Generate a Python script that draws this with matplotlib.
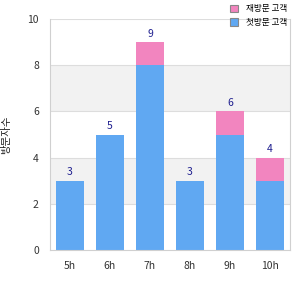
import matplotlib
matplotlib.use("Agg")
import matplotlib.pyplot as plt
from matplotlib.patches import Patch

plt.rcParams['font.family'] = ['Noto Sans CJK KR', 'DejaVu Sans']

categories = ["5h", "6h", "7h", "8h", "9h", "10h"]
blue_vals = [3, 5, 8, 3, 5, 3]
pink_vals = [0, 0, 1, 0, 1, 1]
series_names = ["재방문 고객", "첫방문 고객"]
y_label = "방문자수"

blue = "#60a8f2"
pink = "#f285bf"

fig = plt.figure(figsize=(3, 3), dpi=100)
ax = fig.add_axes([50/300, 50/300, 240/300, 231/300])

x = list(range(len(categories)))
ax.set_xlim(-0.5, len(categories) - 0.5)
ax.set_ylim(0, 10)

# alternating bands
for lo, hi in [(2, 4), (6, 8)]:
    ax.axhspan(lo, hi, color="#f2f2f2", zorder=0, lw=0)
for yv in [2, 4, 6, 8, 10]:
    ax.axhline(yv, color="#dddddd", lw=0.8, zorder=1)

w = 0.72
ax.bar(x, blue_vals, width=w, color=blue, zorder=2)
ax.bar(x, pink_vals, width=w, bottom=blue_vals, color=pink, zorder=2)

for xi, b, p in zip(x, blue_vals, pink_vals):
    ax.text(xi, b + p + 0.15, str(b + p), ha="center", va="bottom",
            fontsize=7.5, color="#1f1f8f", zorder=3)

ax.set_xticks(x)
ax.set_xticklabels(categories)
ax.set_yticks([0, 2, 4, 6, 8, 10])
ax.tick_params(axis="both", length=0, labelsize=7.5, colors="#333333")
ax.tick_params(axis="x", pad=8)
ax.tick_params(axis="y", pad=8)

for s in ["left", "bottom", "right"]:
    ax.spines[s].set_color("#d0d0d0")
ax.spines["top"].set_visible(False)

ax.set_ylabel(y_label, fontsize=7.5, color="#222222", labelpad=12)

handles = [Patch(facecolor=pink, edgecolor="#888888", lw=0.8),
           Patch(facecolor=blue, edgecolor="#888888", lw=0.8)]
fig.legend(handles, series_names, loc="upper left",
           bbox_to_anchor=(226/300, 1.0), frameon=False, fontsize=6.2,
           handlelength=0.9, handleheight=0.9, handletextpad=0.9,
           labelspacing=0.55, borderaxespad=0.1)

fig.savefig("out.png", dpi=100)
